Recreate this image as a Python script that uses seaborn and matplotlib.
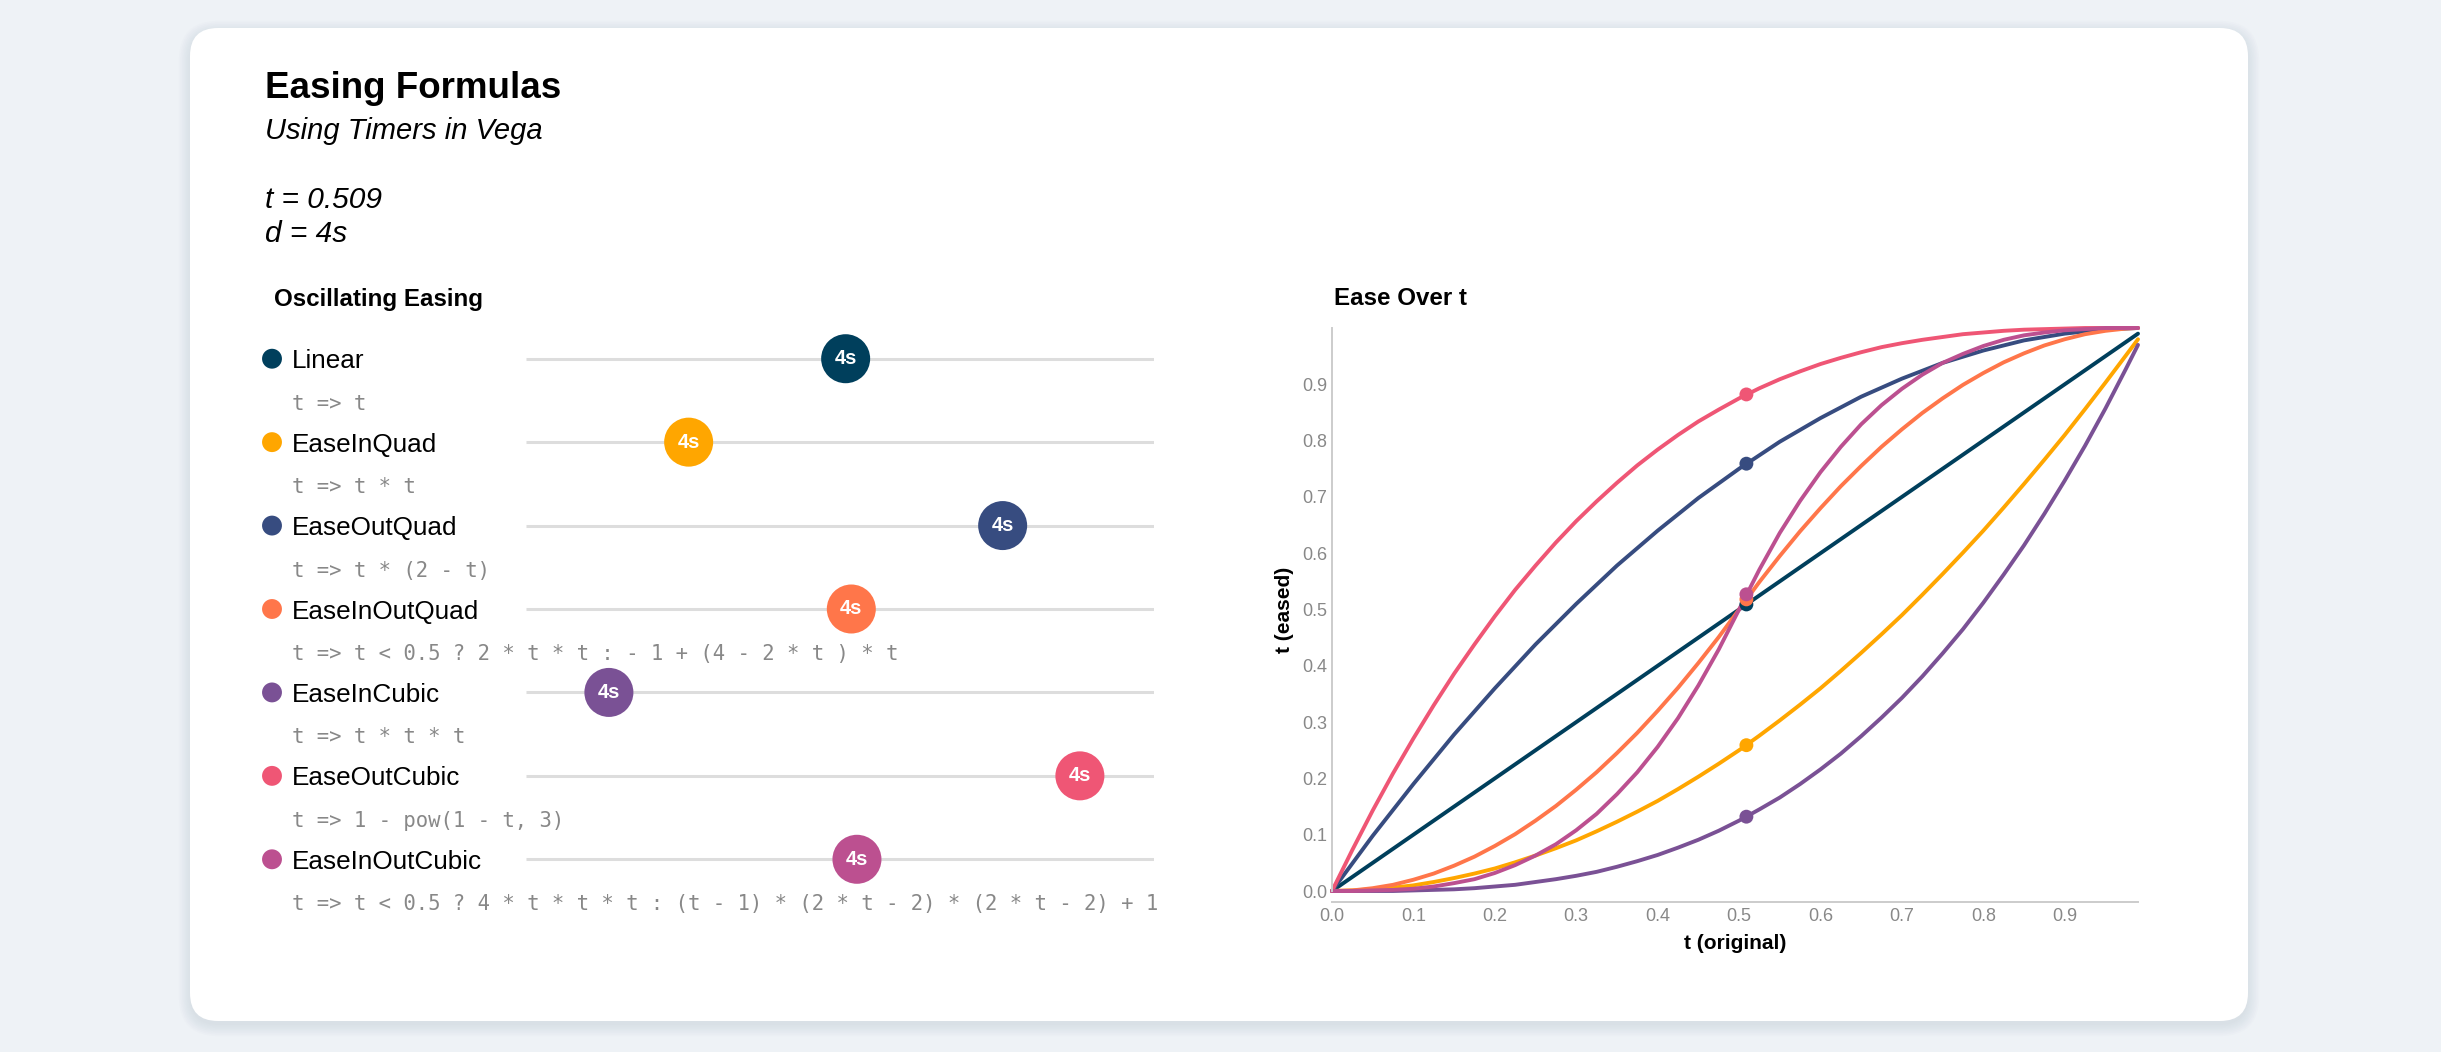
import matplotlib.pyplot as plt
import matplotlib.transforms as mtransforms
from matplotlib.patches import FancyBboxPatch
import seaborn as sns
import pandas as pd

W, H = 2441, 1052

# easing functions shown on the page
names = ["Linear", "EaseInQuad", "EaseOutQuad", "EaseInOutQuad",
         "EaseInCubic", "EaseOutCubic", "EaseInOutCubic"]
colors = ["#003f5c", "#ffa600", "#374c80", "#ff764a",
          "#7a5195", "#ef5675", "#bc5090"]
formulas = [
    "t => t",
    "t => t * t",
    "t => t * (2 - t)",
    "t => t < 0.5 ? 2 * t * t : - 1 + (4 - 2 * t ) * t",
    "t => t * t * t",
    "t => 1 - pow(1 - t, 3)",
    "t => t < 0.5 ? 4 * t * t * t : (t - 1) * (2 * t - 2) * (2 * t - 2) + 1",
]

# current timer state
t_now = 0.509
duration = "4s"
eased_now = [0.509, 0.259, 0.759, 0.518, 0.132, 0.882, 0.527]

t_grid = [0.0, 0.025, 0.05, 0.075, 0.1, 0.125, 0.15, 0.175, 0.2, 0.225,
          0.25, 0.275, 0.3, 0.325, 0.35, 0.375, 0.4, 0.425, 0.45, 0.475,
          0.5, 0.525, 0.55, 0.575, 0.6, 0.625, 0.65, 0.675, 0.7, 0.725,
          0.75, 0.775, 0.8, 0.825, 0.85, 0.875, 0.9, 0.925, 0.95, 0.975,
          0.99]
linear = [0.0, 0.025, 0.05, 0.075, 0.1, 0.125, 0.15, 0.175, 0.2, 0.225,
          0.25, 0.275, 0.3, 0.325, 0.35, 0.375, 0.4, 0.425, 0.45, 0.475,
          0.5, 0.525, 0.55, 0.575, 0.6, 0.625, 0.65, 0.675, 0.7, 0.725,
          0.75, 0.775, 0.8, 0.825, 0.85, 0.875, 0.9, 0.925, 0.95, 0.975,
          0.99]
ease_in_quad = [0.0, 0.001, 0.003, 0.006, 0.01, 0.016, 0.023, 0.031, 0.04, 0.051,
                0.063, 0.076, 0.09, 0.106, 0.123, 0.141, 0.16, 0.181, 0.203, 0.226,
                0.25, 0.276, 0.303, 0.331, 0.36, 0.391, 0.423, 0.456, 0.49, 0.526,
                0.563, 0.601, 0.64, 0.681, 0.723, 0.766, 0.81, 0.856, 0.903, 0.951,
                0.98]
ease_out_quad = [0.0, 0.049, 0.098, 0.144, 0.19, 0.234, 0.278, 0.319, 0.36, 0.399,
                 0.438, 0.474, 0.51, 0.544, 0.578, 0.609, 0.64, 0.669, 0.698, 0.724,
                 0.75, 0.774, 0.798, 0.819, 0.84, 0.859, 0.878, 0.894, 0.91, 0.924,
                 0.938, 0.949, 0.96, 0.969, 0.978, 0.984, 0.99, 0.994, 0.998, 0.999,
                 1.0]
ease_in_out_quad = [0.0, 0.001, 0.005, 0.011, 0.02, 0.031, 0.045, 0.061, 0.08, 0.101,
                    0.125, 0.151, 0.18, 0.211, 0.245, 0.281, 0.32, 0.361, 0.405, 0.451,
                    0.5, 0.549, 0.595, 0.639, 0.68, 0.719, 0.755, 0.789, 0.82, 0.849,
                    0.875, 0.899, 0.92, 0.939, 0.955, 0.969, 0.98, 0.989, 0.995, 0.999,
                    1.0]
ease_in_cubic = [0.0, 0.0, 0.0, 0.0, 0.001, 0.002, 0.003, 0.005, 0.008, 0.011,
                 0.016, 0.021, 0.027, 0.034, 0.043, 0.053, 0.064, 0.077, 0.091, 0.107,
                 0.125, 0.145, 0.166, 0.19, 0.216, 0.244, 0.275, 0.308, 0.343, 0.381,
                 0.422, 0.465, 0.512, 0.562, 0.614, 0.67, 0.729, 0.791, 0.857, 0.927,
                 0.97]
ease_out_cubic = [0.0, 0.073, 0.143, 0.209, 0.271, 0.33, 0.386, 0.438, 0.488, 0.535,
                  0.578, 0.619, 0.657, 0.692, 0.725, 0.756, 0.784, 0.81, 0.834, 0.855,
                  0.875, 0.893, 0.909, 0.923, 0.936, 0.947, 0.957, 0.966, 0.973, 0.979,
                  0.984, 0.989, 0.992, 0.995, 0.997, 0.998, 0.999, 1.0, 1.0, 1.0,
                  1.0]
ease_in_out_cubic = [0.0, 0.0, 0.001, 0.002, 0.004, 0.008, 0.014, 0.021, 0.032, 0.046,
                     0.063, 0.083, 0.108, 0.137, 0.172, 0.211, 0.256, 0.307, 0.365, 0.429,
                     0.5, 0.571, 0.636, 0.693, 0.744, 0.789, 0.829, 0.863, 0.892, 0.917,
                     0.938, 0.954, 0.968, 0.979, 0.987, 0.992, 0.996, 0.998, 1.0, 1.0,
                     1.0]
curves = [linear, ease_in_quad, ease_out_quad, ease_in_out_quad,
          ease_in_cubic, ease_out_cubic, ease_in_out_cubic]

ticks = [0.0, 0.1, 0.2, 0.3, 0.4, 0.5, 0.6, 0.7, 0.8, 0.9]

df = pd.DataFrame({
    "t": t_grid * len(names),
    "eased": [v for c in curves for v in c],
    "easing": [n for n in names for _ in t_grid],
})

sns.set_theme(style="white")
plt.rcParams['font.family'] = ['Liberation Sans', 'DejaVu Sans']

fig = plt.figure(figsize=(W / 100, H / 100), dpi=100)
fig.patch.set_facecolor('#eef2f6')


def fx(x):
    return x / W


def fy(y):
    return 1 - y / H


# card with a soft shadow
for k in range(8):
    grow = k * 1.6
    sh = FancyBboxPatch(((190 - grow) / 100, (H - 1021 - 4 - grow) / 100),
                        (2058 + 2 * grow) / 100, (993 + 2 * grow) / 100,
                        boxstyle="round,pad=0,rounding_size=%.3f" % ((28 + grow) / 100),
                        transform=fig.dpi_scale_trans, facecolor='#7a8794',
                        edgecolor='none', alpha=0.018, zorder=-3)
    fig.add_artist(sh)
card = FancyBboxPatch((190 / 100, (H - 1021) / 100), 2058 / 100, 993 / 100,
                      boxstyle="round,pad=0,rounding_size=0.28",
                      transform=fig.dpi_scale_trans, facecolor='white',
                      edgecolor='none', zorder=-2)
fig.add_artist(card)

# header
fig.text(fx(265), fy(97.5), "Easing Formulas", fontsize=26.5, fontweight='bold',
         va='baseline', color='black')
fig.text(fx(265), fy(139), "Using Timers in Vega", fontsize=21, style='italic',
         va='baseline', color='black')
fig.text(fx(265), fy(207.5), "t = %.3f" % t_now, fontsize=21.5, style='italic',
         va='baseline', color='black')
fig.text(fx(265), fy(241.5), "d = %s" % duration, fontsize=21.5, style='italic',
         va='baseline', color='black')
fig.text(fx(274), fy(306), "Oscillating Easing", fontsize=17.4, fontweight='bold',
         va='baseline', color='black')
fig.text(fx(1334), fy(305), "Ease Over t", fontsize=17.4, fontweight='bold',
         va='baseline', color='black')

# sliders
ax_s = fig.add_axes([fx(526), fy(901), (1154 - 526) / W, (901 - 317) / H])
ax_s.set_xlim(0, 1)
ax_s.set_ylim(6.5, -0.5)
ax_s.axis('off')
rows = list(range(len(names)))
ax_s.hlines(rows, 0, 1, color='#dddddd', lw=2.2, zorder=1)
sns.scatterplot(x=eased_now, y=rows, hue=names, palette=colors, hue_order=names,
                s=1245, linewidth=0, legend=False, ax=ax_s, zorder=3, clip_on=False)
for v, r in zip(eased_now, rows):
    ax_s.text(v, r, duration, color='white', fontsize=14.5, fontweight='bold',
              ha='center', va='center', zorder=4)

# legend column with names and formulas
trans = mtransforms.blended_transform_factory(fig.transFigure, ax_s.transData)
ax_s.scatter([fx(272)] * len(names), rows, transform=trans, c=colors, s=205,
             linewidth=0, clip_on=False, zorder=3)
name_tr = mtransforms.offset_copy(trans, fig, y=-9.5 * 0.72, units='points')
form_tr = mtransforms.offset_copy(trans, fig, y=-51 * 0.72, units='points')
for n, f, r in zip(names, formulas, rows):
    ax_s.text(fx(292), r, n, transform=name_tr, fontsize=18.8, va='baseline',
              color='black', clip_on=False)
    ax_s.text(fx(292), r, f, transform=form_tr, fontsize=14.9, va='baseline',
              color='#888888', family='DejaVu Sans Mono', clip_on=False)

# ease over t chart
ax = fig.add_axes([fx(1332), fy(891), 806 / W, 563 / H])
ax.set_facecolor('none')
sns.lineplot(data=df, x="t", y="eased", hue="easing", hue_order=names,
             palette=dict(zip(names, colors)), estimator=None, sort=False,
             lw=2.8, legend=False, ax=ax, clip_on=False)
sns.scatterplot(x=[t_now] * len(names), y=eased_now, hue=names, hue_order=names,
                palette=colors, s=100, linewidth=0, legend=False, ax=ax, zorder=5)
ax.set_xlim(0, 0.99)
ax.set_ylim(0, 1)
ax.set_xticks(ticks)
ax.set_xticklabels(["%.1f" % v for v in ticks])
ax.set_yticks(ticks)
ax.set_yticklabels(["%.1f" % v for v in ticks])
sns.despine(ax=ax)
ax.spines['bottom'].set_position(('outward', 8))
for s in ['left', 'bottom']:
    ax.spines[s].set_color('#cccccc')
    ax.spines[s].set_linewidth(1.4)
ax.tick_params(axis='both', length=0, labelsize=13, labelcolor='#888888')
ax.tick_params(axis='x', pad=4.5)
ax.tick_params(axis='y', pad=3.5)
ax.set_xlabel("t (original)", fontsize=15, fontweight='bold', color='black', labelpad=6)
ax.set_ylabel("t (eased)", fontsize=15, fontweight='bold', color='black', labelpad=6)

fig.savefig("out.png", dpi=100)
